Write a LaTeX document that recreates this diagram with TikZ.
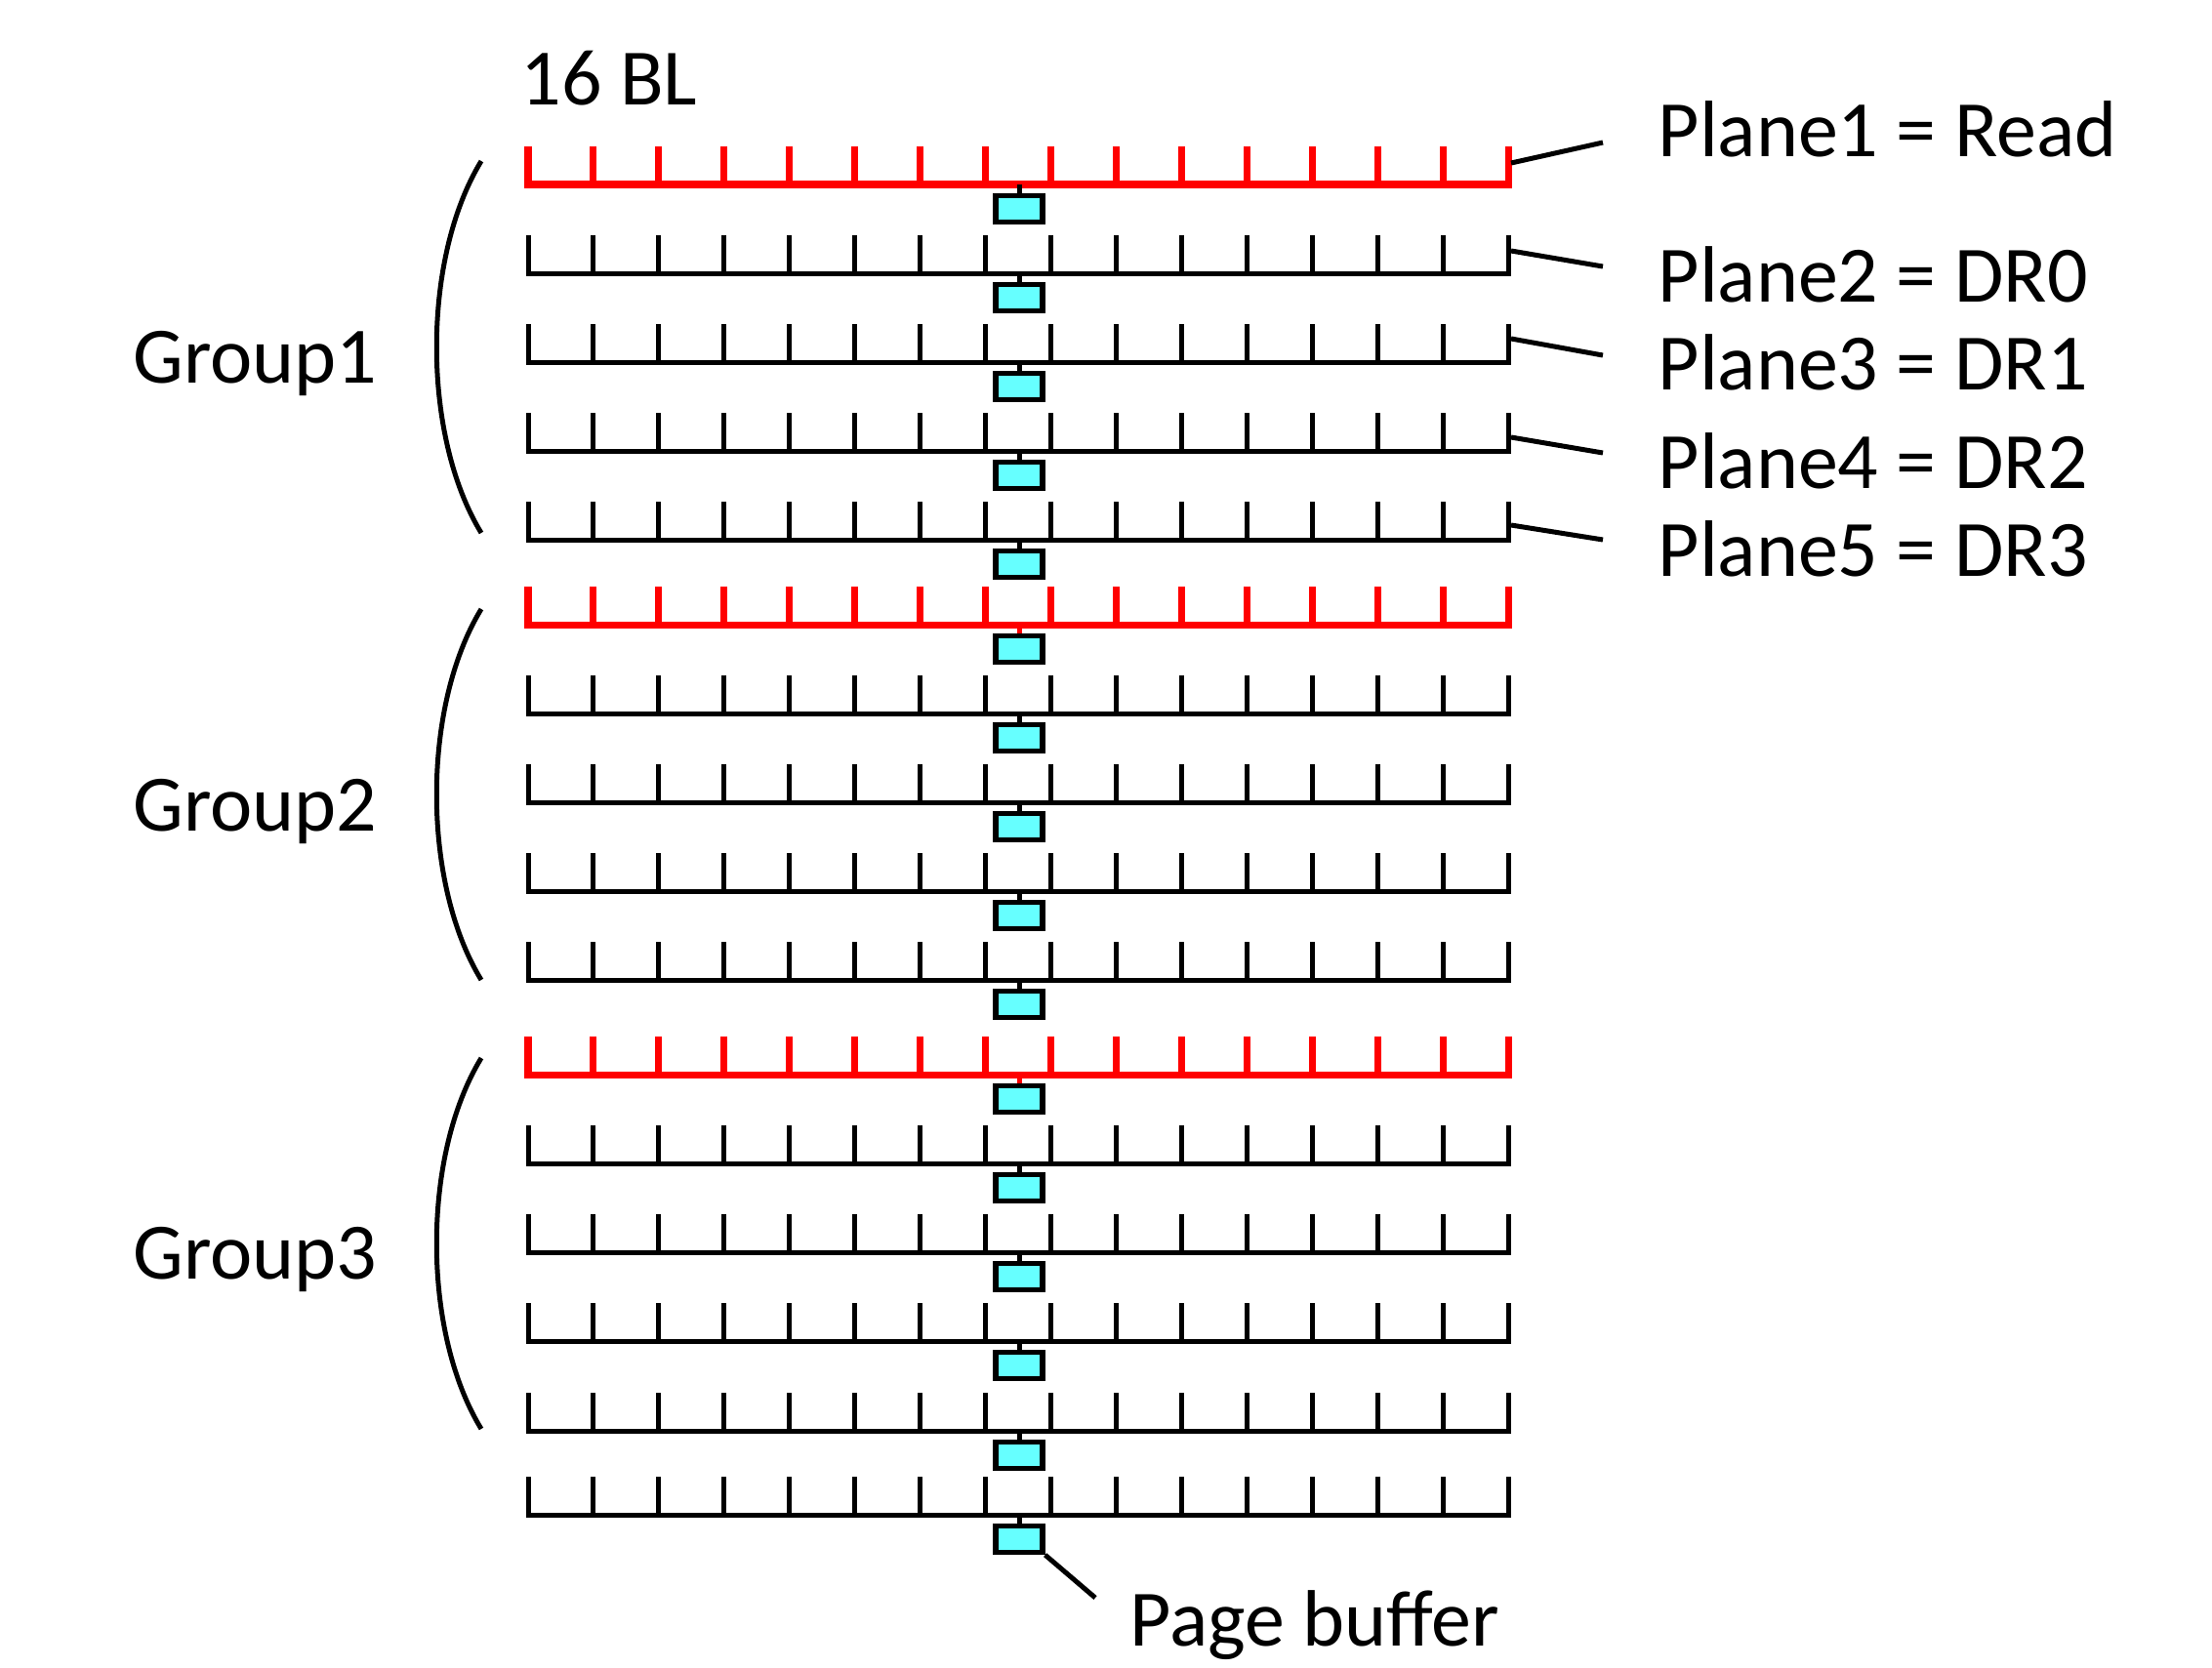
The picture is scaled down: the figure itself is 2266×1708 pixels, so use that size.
\documentclass[tikz,border=0pt]{standalone}
\usepackage{fontspec}
\setmainfont{Carlito}
\usetikzlibrary{calc}
\definecolor{readred}{HTML}{FF0000}
\definecolor{pbcyan}{HTML}{66FFFF}

\begin{document}
\begin{tikzpicture}[x=0.01cm, y=-0.01cm,
    bitline/.style={draw=black, line width=1.42pt},
    readline/.style={draw=readred, line width=2pt},
    pbuf/.style={draw, line width=1.5pt, fill=pbcyan, minimum width=0.48cm,
                 minimum height=0.27cm, inner sep=0pt},
    lbl/.style={font=\fontsize{23.3}{28}\selectfont, inner sep=0pt, anchor=base west},
    lead/.style={line width=1.42pt},
    grpbrace/.style={line width=1.42pt}
  ]
  \useasboundingbox (0,0) rectangle (2266,1708);

  % one row per plane
  \foreach \y [count=\i] in {189,280,371,462,553,640,731,822,913,1004,1101,1192,1283,1374,1466,1552} {
    \coordinate (l\i) at (541,\y);
    \coordinate (r\i) at (1545,\y);
    \node[pbuf] (pb\i) at ($(l\i)+(503,25)$) {};
  }

  % bit lines of the idle planes
  \foreach \i in {2,3,4,5,7,8,9,10,12,13,14,15,16} {
    \draw[bitline] ($(l\i)+(0,-39)$) -- (l\i) -- (r\i) -- ++(0,-39);
    \foreach \k in {1,...,14}
      \draw[bitline] ($(l\i)+(\k*66.93,0)$) -- ++(0,-39);
    \draw[bitline] (pb\i.north) -- (pb\i.north |- l\i);
  }

  % bit lines of the planes being read
  \foreach \i/\c in {1/black,6/readred,11/readred} {
    \draw[readline] ($(l\i)+(0,-39)$) -- (l\i) -- (r\i) -- ++(0,-39);
    \foreach \k in {1,...,14}
      \draw[readline] ($(l\i)+(\k*66.93,0)$) -- ++(0,-39);
    \draw[bitline, draw=\c] (pb\i.north) -- (pb\i.north |- l\i);
  }

  % groups
  \draw[grpbrace] (493,165) .. controls (432,265) and (432,446) .. (493,546);
  \draw[grpbrace] (493,624) .. controls (432,724) and (432,904) .. (493,1004);
  \draw[grpbrace] (493,1084) .. controls (432,1184) and (432,1364) .. (493,1464);
  \node[lbl] (g1) at (136,392) {Group1};
  \node[lbl] (g2) at (136,851) {Group2};
  \node[lbl] (g3) at (136,1310) {Group3};

  \node[lbl] (bl) at (533,107) {16 BL};

  % Annotations
  \node[lbl] (p1) at (1698,160) {Plane1 = Read};
  \node[lbl] (p2) at (1698,309) {Plane2 = DR0};
  \node[lbl] (p3) at (1698,399) {Plane3 = DR1};
  \node[lbl] (p4) at (1698,500) {Plane4 = DR2};
  \node[lbl] (p5) at (1698,590) {Plane5 = DR3};
  \foreach \i/\ya/\yb in {1/167/146, 2/257/273, 3/347/364, 4/448/464, 5/538/553} {
    \coordinate (t\i) at (1548,\ya);
    \coordinate (e\i) at (1642,\yb);
    \draw[lead] (t\i) -- (e\i);
  }

  \node[lbl] (pbtext) at (1157,1686) {Page buffer};
  \coordinate (pbend) at (1122,1637);
  \draw[lead] (pb16.south east) -- (pbend);
\end{tikzpicture}
\end{document}
